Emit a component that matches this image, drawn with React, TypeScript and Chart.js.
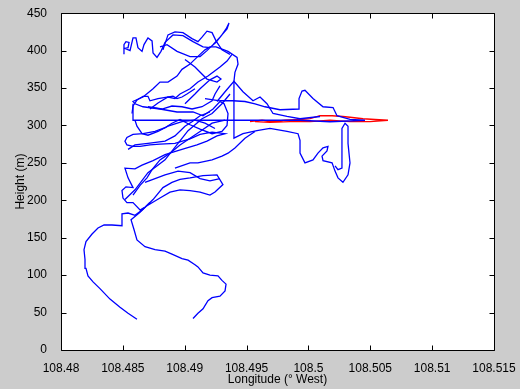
import React, { useEffect, useRef } from "react";
import { Chart, registerables } from "chart.js";

Chart.register(...registerables);

// Axis ticks
const xTickValues = [108.48, 108.485, 108.49, 108.495, 108.5, 108.505, 108.51, 108.515];
const yTickValues = [0, 50, 100, 150, 200, 250, 300, 350, 400, 450];
const xTitle = "Longitude (° West)";
const yTitle = "Height (m)";

// Flight track pieces (longitude ° West, height m)
const seg1Lon = [
  108.48614, 108.48542, 108.48477, 108.48396, 108.48315, 108.48259, 108.48218, 108.48202, 108.48194, 108.48186, 108.48202, 108.48251, 108.48299, 108.48348, 108.48412, 108.48493,
  108.48493, 108.48542, 108.48598, 108.48663, 108.48744, 108.48824, 108.48897, 108.48962, 108.49043, 108.49148, 108.49261, 108.49309, 108.49245, 108.49204, 108.49124, 108.49043, 108.48962, 108.48881, 108.488, 108.48719, 108.48639, 108.48582, 108.48533, 108.48501, 108.48493, 108.48525, 108.48582,
  108.48542, 108.48517, 108.48598, 108.48655, 108.48744, 108.48841, 108.48938, 108.49018, 108.49099, 108.4918, 108.49261, 108.49326, 108.49221, 108.49124, 108.49043, 108.48921, 108.488, 108.48719, 108.48639, 108.48582, 108.48533, 108.48517, 108.48533, 108.48582, 108.48663, 108.4876, 108.48841, 108.48897, 108.48962, 108.49043, 108.49124, 108.49221, 108.49301, 108.49342, 108.4935, 108.49318, 108.49285, 108.49229, 108.49148, 108.49067, 108.48938, 108.488, 108.48663, 108.48598, 108.48582,
  108.48663, 108.48744, 108.488, 108.48865, 108.48938, 108.48978, 108.49043, 108.49067, 108.49124, 108.49164, 108.49204, 108.49253, 108.49269, 108.4935, 108.49423, 108.49431, 108.49406, 108.49398, 108.49398, 108.49398, 108.49398, 108.49471, 108.49584, 108.49689, 108.49827, 108.49916, 108.49932, 108.49932, 108.49972, 108.50037, 108.50077, 108.50118, 108.50158, 108.5015, 108.5011, 108.50118, 108.50191, 108.50215, 108.50239, 108.50279, 108.5032, 108.50336, 108.5032, 108.5032, 108.50296, 108.50271, 108.50271, 108.50271, 108.50239, 108.50215,
];
const seg1H = [
  41, 49, 57, 68, 82, 91, 99, 109, 121, 134, 145, 155, 163, 167, 167, 166,
  182, 183, 180, 188, 201, 217, 224, 228, 230, 233, 234, 221, 211, 207, 211, 213, 214, 211, 203, 195, 187, 197, 197, 203, 213, 218, 217,
  230, 243, 242, 247, 253, 261, 266, 270, 274, 279, 286, 289, 291, 288, 282, 276, 275, 274, 272, 272, 274, 279, 284, 288, 289, 292, 297, 303, 308, 301, 295, 289, 292, 300, 316, 329, 332, 322, 313, 318, 318, 322, 325, 329, 332,
  338, 349, 358, 358, 366, 375, 382, 386, 395, 401, 405, 405, 404, 399, 391, 382, 371, 359, 329, 307, 283, 289, 293, 296, 292, 289, 280, 263, 250, 254, 263, 270, 272, 266, 259, 253, 250, 239, 230, 224, 234, 250, 276, 299, 303, 296, 270, 243, 241, 246,
];

const seg2Lon = [108.48582, 108.48582, 108.49398, 108.49932, 108.50174, 108.50457, 108.50336, 108.50231, 108.50199, 108.50118, 108.50037, 108.49972, 108.49948, 108.49924, 108.49924, 108.4977, 108.49649, 108.49568, 108.49487, 108.4939, 108.49285, 108.49164];
const seg2H = [329, 307, 307, 307, 305, 307, 308, 313, 324, 325, 336, 347, 346, 336, 322, 321, 325, 329, 332, 333, 333, 336];

const seg3Lon = [108.48509, 108.48509, 108.48525, 108.4855, 108.48542, 108.48517, 108.48558, 108.48582, 108.48606, 108.48622, 108.48655, 108.48671, 108.48703, 108.48736, 108.48744, 108.48776, 108.48808, 108.48841, 108.48905, 108.48986, 108.49067, 108.49148, 108.49204, 108.49253, 108.49301, 108.49334, 108.49358, 108.49342, 108.49285, 108.49229, 108.4918, 108.49124, 108.49043, 108.48938, 108.48857, 108.488];
const seg3H = [395, 408, 412, 411, 404, 403, 400, 417, 417, 404, 399, 408, 417, 413, 397, 391, 399, 411, 421, 420, 412, 405, 404, 411, 421, 429, 437, 429, 418, 408, 400, 392, 392, 399, 408, 405];

const seg4Lon = [108.48824, 108.48865, 108.48921, 108.48986, 108.49059, 108.49107, 108.4914, 108.4918, 108.49221, 108.49253, 108.49301, 108.49366];
const seg4H = [401, 421, 425, 424, 416, 412, 418, 426, 424, 413, 401, 395];

const seg5Lon = [108.48719, 108.48784, 108.48865, 108.48921, 108.48962, 108.49043, 108.49107, 108.49188, 108.49285, 108.49342, 108.49382];
const seg5H = [322, 330, 338, 336, 342, 349, 358, 366, 378, 386, 395];

const seg6Lon = [108.49002, 108.49083, 108.4918, 108.49261, 108.49293, 108.49261, 108.49204, 108.49124, 108.49083, 108.49002];
const seg6H = [388, 378, 362, 358, 362, 366, 361, 349, 342, 329];

const seg7Lon = [108.49261, 108.49326, 108.49398, 108.49471, 108.49552, 108.49609, 108.49665, 108.49714, 108.49827, 108.49932, 108.50094];
const seg7H = [332, 345, 359, 345, 333, 338, 329, 316, 312, 309, 312];

const seg8Lon = [108.48719, 108.48639, 108.48566, 108.4859, 108.48614, 108.48679, 108.4876, 108.48841, 108.48897, 108.48978, 108.49027, 108.49083, 108.49107, 108.49148, 108.49204, 108.49269, 108.49301, 108.49334, 108.49326, 108.49285, 108.49221, 108.49188, 108.49148, 108.49107, 108.49067];
const seg8H = [197, 184, 174, 161, 147, 138, 134, 132, 128, 122, 120, 114, 111, 103, 100, 99, 93, 88, 79, 72, 70, 66, 55, 49, 42];

const seg9Lon = [108.48582, 108.48639, 108.48695, 108.48736, 108.488, 108.48881, 108.48962, 108.49043, 108.49124, 108.49221, 108.49326];
const seg9H = [207, 220, 230, 241, 254, 263, 274, 283, 292, 303, 307];

const seg10Lon = [108.49366, 108.49301, 108.49221, 108.4914, 108.49027, 108.48946, 108.48841, 108.48703, 108.48598, 108.48517];
const seg10H = [342, 329, 316, 309, 293, 276, 254, 237, 214, 201];

const seg11Lon = [108.48574, 108.48582, 108.48614, 108.48663, 108.48703, 108.48719, 108.48784, 108.48857, 108.48905, 108.48938, 108.48978, 108.49018, 108.49083];
const seg11H = [316, 326, 334, 339, 339, 333, 336, 338, 339, 336, 338, 342, 349];

const seg12Lon = [108.48703, 108.48816, 108.48897, 108.48978, 108.49059, 108.4914, 108.49221, 108.49245, 108.49285];
const seg12H = [325, 322, 326, 325, 322, 325, 333, 342, 353];

const seg13Lon = [108.48598, 108.48614, 108.48655, 108.48703, 108.48784, 108.48865, 108.48978, 108.49083, 108.49164, 108.49245];
const seg13H = [307, 299, 289, 287, 292, 299, 305, 307, 303, 296];

const seg14Lon = [108.48542, 108.48598, 108.48703, 108.48841, 108.48921, 108.49002, 108.49059, 108.49124, 108.49204];
const seg14H = [268, 274, 276, 279, 286, 299, 305, 313, 318];

const seg15Lon = [108.48921, 108.49043, 108.49107, 108.49221, 108.49301, 108.4935, 108.49406, 108.49487, 108.49568];
const seg15H = [243, 250, 250, 254, 259, 263, 270, 283, 292];

const seg16Lon = [108.48679, 108.4876, 108.48841, 108.48946, 108.49043, 108.49124, 108.49204, 108.49285];
const seg16H = [224, 229, 234, 239, 237, 229, 226, 229];

const redLon = [108.49528, 108.49625, 108.49714, 108.49811, 108.49932, 108.50013, 108.50094, 108.50191, 108.50279, 108.50336, 108.50441, 108.50538, 108.50643, 108.50498, 108.50336, 108.50174, 108.50013, 108.49851, 108.49689, 108.49568];
const redH = [305, 307, 305, 307, 308, 309, 313, 313, 312, 311, 309, 308, 307, 305, 305, 307, 305, 305, 304, 305];

const blueSegments: [number[], number[]][] = [
  [seg1Lon, seg1H], [seg2Lon, seg2H], [seg3Lon, seg3H], [seg4Lon, seg4H], [seg5Lon, seg5H],
  [seg6Lon, seg6H], [seg7Lon, seg7H], [seg8Lon, seg8H], [seg9Lon, seg9H], [seg10Lon, seg10H],
  [seg11Lon, seg11H], [seg12Lon, seg12H], [seg13Lon, seg13H], [seg14Lon, seg14H], [seg15Lon, seg15H],
  [seg16Lon, seg16H],
];

const FONT = "'Liberation Sans', Arial, Helvetica, sans-serif";

const axesBoxPlugin = {
  id: "axesBox",
  beforeDraw(chart: any) {
    const { ctx, chartArea: a } = chart;
    ctx.save();
    ctx.fillStyle = "#ffffff";
    ctx.fillRect(a.left, a.top, a.right - a.left, a.bottom - a.top);
    ctx.restore();
  },
  afterDraw(chart: any) {
    const { ctx, chartArea: a, scales } = chart;
    const L = Math.round(a.left) + 0.5;
    const R = Math.round(a.right) + 0.5;
    const T = Math.round(a.top) + 0.5;
    const B = Math.round(a.bottom) + 0.5;
    const tl = 5;
    ctx.save();
    ctx.strokeStyle = "#000000";
    ctx.lineWidth = 1;
    ctx.beginPath();
    ctx.rect(L, T, R - L, B - T);
    scales.x.ticks.forEach((t: any) => {
      const px = Math.round(scales.x.getPixelForValue(t.value)) + 0.5;
      ctx.moveTo(px, B);
      ctx.lineTo(px, B - tl);
      ctx.moveTo(px, T);
      ctx.lineTo(px, T + tl);
    });
    scales.y.ticks.forEach((t: any) => {
      const py = Math.round(scales.y.getPixelForValue(t.value)) + 0.5;
      ctx.moveTo(L, py);
      ctx.lineTo(L + tl, py);
      ctx.moveTo(R, py);
      ctx.lineTo(R - tl, py);
    });
    ctx.stroke();
    ctx.restore();
  },
};

export default function App() {
  const canvasRef = useRef<HTMLCanvasElement | null>(null);

  useEffect(() => {
    document.body.style.margin = "0";
    const canvas = canvasRef.current;
    if (!canvas) return;

    const lineStyle = (color: string) => ({
      borderColor: color,
      backgroundColor: color,
      borderWidth: 1.3,
      showLine: true,
      pointRadius: 0,
      fill: false,
      tension: 0,
    });

    const datasets: any[] = blueSegments.map(([lon, h]) => ({
      data: lon.map((x, i) => ({ x, y: h[i] })),
      ...lineStyle("#0000ff"),
    }));
    datasets.push({
      data: redLon.map((x, i) => ({ x, y: redH[i] })),
      ...lineStyle("#ff0000"),
    });

    const chart = new Chart(canvas, {
      type: "scatter",
      data: { datasets },
      options: {
        responsive: false,
        animation: false,
        devicePixelRatio: 1,
        events: [],
        layout: { padding: { top: 8, right: 26, left: 0, bottom: 0 } },
        plugins: {
          legend: { display: false },
          tooltip: { enabled: false },
          title: { display: false },
        },
        scales: {
          x: {
            type: "linear",
            position: "bottom",
            min: 108.48,
            max: 108.515,
            afterBuildTicks: (s: any) => {
              s.ticks = xTickValues.map((v) => ({ value: v }));
            },
            afterFit: (s: any) => {
              s.height = 39;
            },
            grid: { display: false },
            border: { display: false },
            ticks: {
              autoSkip: false,
              maxRotation: 0,
              minRotation: 0,
              padding: 3,
              color: "#000000",
              font: { family: FONT, size: 12 },
              callback: (v: any) => String(parseFloat(Number(v).toFixed(3))),
            },
            title: {
              display: true,
              text: xTitle,
              color: "#000000",
              font: { family: FONT, size: 12 },
              padding: { top: 0, bottom: 2 },
            },
          },
          y: {
            type: "linear",
            min: 0,
            max: 450,
            afterBuildTicks: (s: any) => {
              s.ticks = yTickValues.map((v) => ({ value: v }));
            },
            afterFit: (s: any) => {
              s.width = 61;
            },
            grid: { display: false },
            border: { display: false },
            ticks: {
              autoSkip: false,
              padding: 6,
              color: "#000000",
              font: { family: FONT, size: 12 },
              callback: (v: any) => String(v),
            },
            title: {
              display: true,
              text: yTitle,
              color: "#000000",
              font: { family: FONT, size: 12 },
              padding: { top: 13, bottom: 0 },
            },
          },
        },
      },
      plugins: [axesBoxPlugin],
    });

    return () => chart.destroy();
  }, []);

  return (
    <div style={{ width: 520, height: 389, background: "#cccccc", position: "relative" }}>
      <canvas ref={canvasRef} width={520} height={389} style={{ display: "block" }} />
    </div>
  );
}
